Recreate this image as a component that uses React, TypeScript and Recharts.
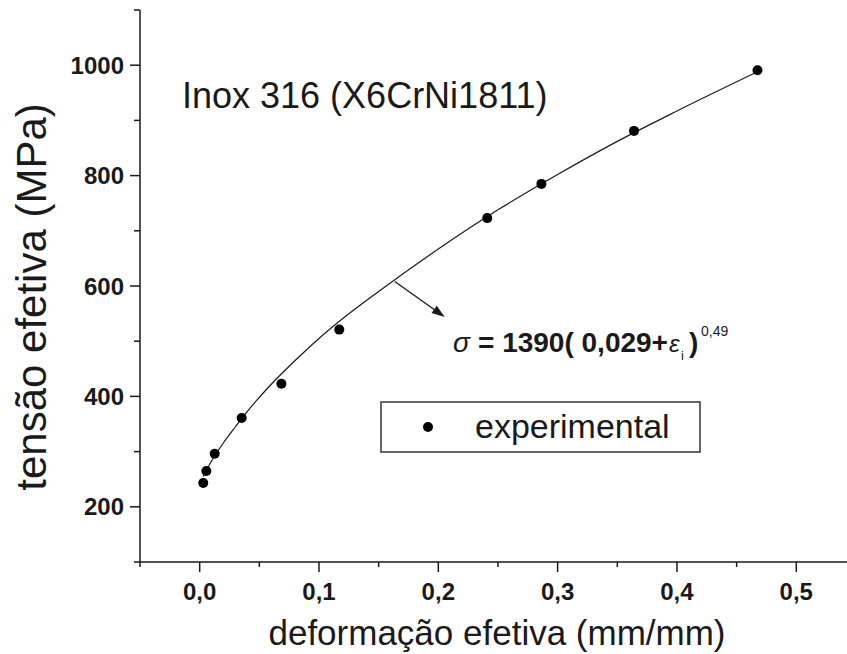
import React from 'react';
import { ComposedChart, Line, Scatter, XAxis, YAxis, ReferenceLine } from 'recharts';

// experimental points
const strainExp = [0.003, 0.0056, 0.0126, 0.0352, 0.0685, 0.117, 0.241, 0.2864, 0.364, 0.4675];
const stressExp = [243, 265, 296, 361, 423, 521, 723, 785, 881, 991];

// fitted curve
const strainFit = [0.003, 0.006, 0.01, 0.02, 0.03, 0.04, 0.06, 0.08, 0.1, 0.12, 0.15, 0.2, 0.25, 0.3, 0.35, 0.4, 0.4675];
const stressFit = [255, 268, 283, 316, 345, 373, 422, 465, 505, 541, 590, 667, 738, 802, 862, 917, 988];

const xMajor = [0, 0.1, 0.2, 0.3, 0.4, 0.5];
const xMajorLabels = ['0,0', '0,1', '0,2', '0,3', '0,4', '0,5'];
const xMinor = [-0.05, 0.05, 0.15, 0.25, 0.35, 0.45];
const yMajor = [200, 400, 600, 800, 1000];
const yMajorLabels = ['200', '400', '600', '800', '1000'];
const yMinor = [100, 300, 500, 700, 900, 1100];

const arrowFrom = { x: 0.1635, y: 608 };
const arrowTo = { x: 0.2054, y: 544 };

const expData = strainExp.map((x, i) => ({ x, y: stressExp[i] }));
const fitData = strainFit.map((x, i) => ({ x, y: stressFit[i] }));

const FONT = '"Liberation Sans", Arial, Helvetica, sans-serif';
const INK = '#1a1a1a';

const near = (a: number, b: number) => Math.abs(a - b) < 1e-6;

const XTick = (props: any) => {
  const { x, y, payload } = props;
  const i = xMajor.findIndex(v => near(v, payload.value));
  const major = i >= 0;
  return (
    <g>
      <line x1={x} y1={y} x2={x} y2={y + (major ? 10 : 5)} stroke={INK} strokeWidth={1.5} />
      {major && (
        <text x={x} y={y + 38} textAnchor="middle" fontFamily={FONT} fontSize={24} fontWeight="bold" fill={INK}>
          {xMajorLabels[i]}
        </text>
      )}
    </g>
  );
};

const YTick = (props: any) => {
  const { x, y, payload } = props;
  const i = yMajor.findIndex(v => near(v, payload.value));
  const major = i >= 0;
  return (
    <g>
      <line x1={x - (major ? 10 : 6)} y1={y} x2={x} y2={y} stroke={INK} strokeWidth={1.5} />
      {major && (
        <text x={x - 16} y={y + 8.5} textAnchor="end" fontFamily={FONT} fontSize={24} fontWeight="bold" fill={INK}>
          {yMajorLabels[i]}
        </text>
      )}
    </g>
  );
};

const Arrow = (props: any) => {
  const { x1, y1, x2, y2 } = props;
  const dx = x2 - x1;
  const dy = y2 - y1;
  const len = Math.sqrt(dx * dx + dy * dy);
  const ux = dx / len;
  const uy = dy / len;
  const hl = 13;
  const hw = 4.5;
  const bx = x2 - ux * hl;
  const by = y2 - uy * hl;
  return (
    <g>
      <line x1={x1} y1={y1} x2={bx} y2={by} stroke={INK} strokeWidth={1.3} />
      <polygon
        points={`${x2},${y2} ${bx - uy * hw},${by + ux * hw} ${bx + uy * hw},${by - ux * hw}`}
        fill={INK}
      />
    </g>
  );
};

const App = () => (
  <div style={{ position: 'absolute', left: 0, top: 0, width: 847, height: 654, overflow: 'hidden', background: '#fff' }}>
    <ComposedChart width={847} height={654} margin={{ top: 10, right: 0, bottom: 0, left: 0 }}>
      <XAxis
        dataKey="x"
        type="number"
        domain={[-0.05, 0.5425]}
        allowDataOverflow
        ticks={[...xMinor, ...xMajor].sort((a, b) => a - b)}
        interval={0}
        tick={<XTick />}
        tickLine={false}
        tickSize={0}
        tickMargin={0}
        height={92}
        axisLine={{ stroke: INK, strokeWidth: 1.5 }}
      />
      <YAxis
        dataKey="y"
        type="number"
        domain={[100, 1100]}
        allowDataOverflow
        ticks={[...yMinor, ...yMajor].sort((a, b) => a - b)}
        interval={0}
        tick={<YTick />}
        tickLine={false}
        tickSize={0}
        tickMargin={0}
        width={140}
        axisLine={{ stroke: INK, strokeWidth: 1.5 }}
      />
      <Line
        data={fitData}
        dataKey="y"
        type="monotone"
        stroke={INK}
        strokeWidth={1.2}
        dot={false}
        activeDot={false}
        isAnimationActive={false}
      />
      <Scatter
        data={expData}
        dataKey="y"
        fill="#000"
        isAnimationActive={false}
        shape={(p: any) => <circle cx={p.cx} cy={p.cy} r={5} fill="#000" />}
      />
      <ReferenceLine segment={[arrowFrom, arrowTo]} ifOverflow="visible" shape={<Arrow />} />
    </ComposedChart>
    <svg width={847} height={654} style={{ position: 'absolute', left: 0, top: 0, pointerEvents: 'none' }}>
      <text x={182} y={108} fontFamily={FONT} fontSize={36} fill={INK}>Inox 316 (X6CrNi1811)</text>

      <text x={453} y={352} fontFamily={FONT} fontSize={28} fontStyle="italic" fill={INK}>σ</text>
      <text x={478} y={352} fontFamily={FONT} fontSize={28} fontWeight="bold" fill={INK}>= 1390( 0,029+</text>
      <text x={669} y={352} fontFamily={FONT} fontSize={24} fontStyle="italic" fill={INK}>ε</text>
      <text x={681} y={360} fontFamily={FONT} fontSize={13} fill={INK}>i</text>
      <text x={689} y={352} fontFamily={FONT} fontSize={28} fontWeight="bold" fill={INK}>)</text>
      <text x={701} y={336} fontFamily={FONT} fontSize={14} fill={INK}>0,49</text>

      <rect x={381} y={402} width={319} height={50} fill="none" stroke="#333" strokeWidth={1.5} />
      <circle cx={428} cy={427} r={5} fill="#000" />
      <text x={475} y={438} fontFamily={FONT} fontSize={34} fill={INK}>experimental</text>

      <text x={497} y={645} textAnchor="middle" fontFamily={FONT} fontSize={35} fill={INK}>
        deformação efetiva (mm/mm)
      </text>
      <text
        x={46}
        y={297}
        transform="rotate(-90 46 297)"
        textAnchor="middle"
        fontFamily={FONT}
        fontSize={42}
        fill={INK}
      >
        tensão efetiva (MPa)
      </text>
    </svg>
  </div>
);

export default App;
